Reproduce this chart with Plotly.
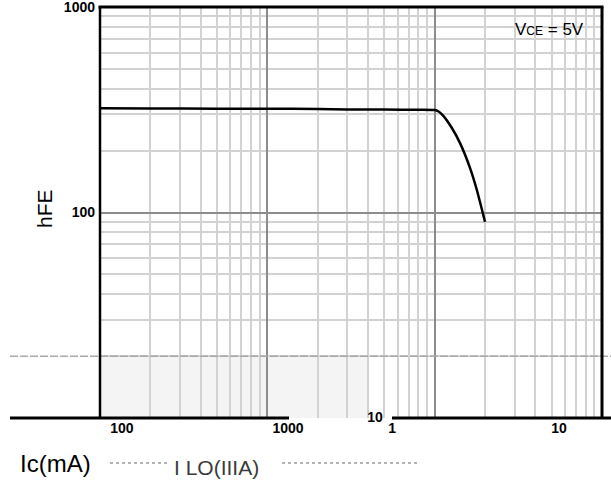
import plotly.graph_objects as go

# ---- data ----
ic_ma = [0.1, 0.2, 0.5, 1.0, 2.0, 3.0, 5.0, 8.0, 10.0, 10.5, 11.2, 12.7, 14.2, 16.3, 17.9, 20.0]
hfe = [322, 321, 320, 320, 319, 317, 317, 316, 315, 311, 297, 257, 217, 164, 128, 90]

x_label_pos = [0.1353, 1.33, 5.565, 55.4]
x_label_text = ["100", "1000", "1", "10"]
y_tick_vals = [10, 100, 1000]
y_tick_text = ["", "100", "1000"]
x_major_grid = [1, 10]
x_minor_grid = [m * d for d in (0.1, 1, 10) for m in range(2, 10)]
y_minor_grid = [m * d for d in (10, 100) for m in range(2, 10)]
stray_label_x, stray_label_y, stray_label = 4.40, 10, "10"

FONT = "Liberation Sans, Arial, sans-serif"
L, R, T, B = 100, 9, 7, 62
W, H = 611, 480
PW, PH = W - L - R, H - T - B


def px(x):
    return (x - L) / PW


def py(y):
    return (H - B - y) / PH


fig = go.Figure()
fig.add_trace(go.Scatter(x=ic_ma, y=hfe, mode="lines", xaxis="x2", yaxis="y",
                         line=dict(color="black", width=2.5, shape="spline", smoothing=0.6),
                         showlegend=False, hoverinfo="skip"))
fig.add_trace(go.Scatter(x=[stray_label_x], y=[stray_label_y], mode="text", text=[stray_label],
                         textfont=dict(family=FONT, size=14, color="black", weight="bold"),
                         textposition="middle center", cliponaxis=False, xaxis="x", yaxis="y",
                         showlegend=False, hoverinfo="skip"))

shapes = []
shapes.append(dict(type="rect", xref="x", yref="y", x0=0.1, x1=4.0, y0=10, y1=20,
                   fillcolor="#f4f4f4", line=dict(width=0), layer="below"))
shapes.append(dict(type="line", xref="paper", yref="y", x0=px(10), x1=px(611), y0=20, y1=20,
                   line=dict(color="#a8a8a8", width=1.5, dash="8px,2px"), layer="above"))
shapes.append(dict(type="rect", xref="paper", yref="paper", x0=px(500), x1=1.0, y0=py(54), y1=py(13),
                   fillcolor="white", line=dict(width=0), layer="between"))
shapes.append(dict(type="line", xref="paper", yref="paper", x0=0, x1=0, y0=0, y1=1,
                   line=dict(color="black", width=2.5)))
shapes.append(dict(type="line", xref="paper", yref="paper", x0=1, x1=1, y0=0, y1=1,
                   line=dict(color="black", width=3)))
shapes.append(dict(type="line", xref="paper", yref="paper", x0=-0.003, x1=1.003, y0=1, y1=1,
                   line=dict(color="black", width=3)))
shapes.append(dict(type="line", xref="paper", yref="paper", x0=px(10), x1=px(289), y0=0, y1=0,
                   line=dict(color="black", width=3)))
shapes.append(dict(type="line", xref="paper", yref="paper", x0=px(392), x1=px(611), y0=0, y1=0,
                   line=dict(color="black", width=3)))
shapes.append(dict(type="line", xref="paper", yref="paper", x0=px(110), x1=px(170), y0=py(463), y1=py(463),
                   line=dict(color="#9a9a9a", width=1.5, dash="dot")))
shapes.append(dict(type="line", xref="paper", yref="paper", x0=px(282), x1=px(418), y0=py(463), y1=py(463),
                   line=dict(color="#9a9a9a", width=1.5, dash="dot")))

annotations = [
    dict(text="hFE", xref="paper", yref="paper", x=px(45), y=py(209), textangle=-90,
         showarrow=False, font=dict(family=FONT, size=21, color="black"),
         xanchor="center", yanchor="middle"),
    dict(text="V<span style='font-size:12px'>CE</span> = 5V", xref="paper", yref="paper",
         x=px(549), y=py(29), showarrow=False, font=dict(family=FONT, size=17, color="black"),
         xanchor="center", yanchor="middle"),
    dict(text="Ic(mA)", xref="paper", yref="paper", x=px(18), y=py(448), showarrow=False,
         font=dict(family=FONT, size=24, color="black"), xanchor="left", yanchor="top"),
    dict(text="I LO(IIIA)", xref="paper", yref="paper", x=px(172), y=py(454), showarrow=False,
         font=dict(family=FONT, size=21, color="#3a3a3a"), xanchor="left", yanchor="top"),
]

fig.update_layout(
    width=W, height=H,
    margin=dict(l=L, r=R, t=T, b=B, pad=0),
    paper_bgcolor="white", plot_bgcolor="white",
    showlegend=False,
    shapes=shapes, annotations=annotations,
    xaxis=dict(type="log", range=[-1, 2], tickmode="array", tickvals=x_label_pos, ticktext=x_label_text,
               showgrid=False, zeroline=False, showline=False, ticks="", automargin=False,
               ticklabeloverflow="allow",
               tickfont=dict(family=FONT, size=14, color="black", weight="bold")),
    xaxis2=dict(type="log", range=[-1, 2], overlaying="x", anchor="y", side="bottom", automargin=False,
                tickmode="array", tickvals=x_major_grid, showticklabels=False, ticks="",
                showgrid=True, gridcolor="#8c8c8c", gridwidth=2, zeroline=False, showline=False,
                minor=dict(tickmode="array", tickvals=x_minor_grid, showgrid=True,
                           gridcolor="#d2d2d2", gridwidth=1.5, ticks="")),
    yaxis=dict(type="log", range=[1, 3], tickmode="array", tickvals=y_tick_vals, ticktext=y_tick_text,
               showgrid=True, gridcolor="#8c8c8c", gridwidth=2, zeroline=False, showline=False, ticks="",
               automargin=False, ticklabelstandoff=4, ticklabeloverflow="allow",
               tickfont=dict(family=FONT, size=14, color="black", weight="bold"),
               minor=dict(tickmode="array", tickvals=y_minor_grid, showgrid=True,
                          gridcolor="#d2d2d2", gridwidth=1.5, ticks="")),
)

fig.write_html("out.html", config={"displayModeBar": False},
               post_script="document.body.style.margin='0';")
